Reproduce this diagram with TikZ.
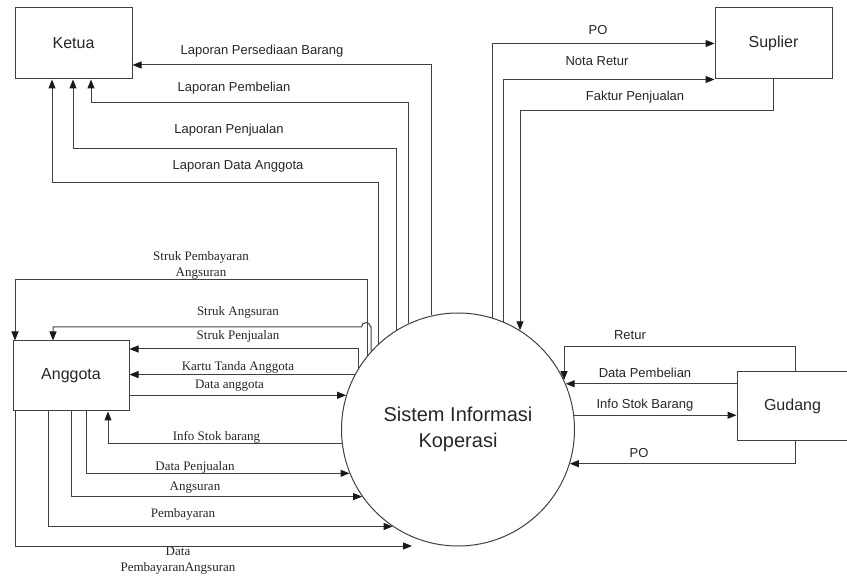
\documentclass[tikz,border=0pt]{standalone}
\usepackage{fontspec}
\setmainfont{Liberation Serif}
\setsansfont{Liberation Sans}
\usetikzlibrary{arrows.meta}

\begin{document}
\begin{tikzpicture}[x=1pt,y=-1pt,
  line/.style={draw=black!75, line width=1pt},
  flow/.style={line, -{Triangle[length=9pt,width=7pt,color=black!90]}},
  entity/.style={line, rectangle, inner sep=0pt, text=black!85,
    font=\sffamily\fontsize{16}{18}\selectfont},
  proc/.style={line, circle, inner sep=0pt, align=center, text=black!85,
    font=\sffamily\fontsize{20}{26}\selectfont},
  sl/.style={inner sep=0pt, text=black!85, font=\sffamily\fontsize{13}{15}\selectfont},
  rl/.style={inner sep=0pt, text=black!85, align=center,
    font=\rmfamily\fontsize{13}{16}\selectfont}]
\useasboundingbox (0,0) rectangle (847,577);

% external entities and the process
\node[entity, minimum width=117pt, minimum height=71pt] (ketua) at (73.5,43.5) {Ketua};
\node[entity, minimum width=117pt, minimum height=71pt] (suplier) at (773.5,43.5) {Suplier};
\node[entity, minimum width=116pt, minimum height=70pt] (anggota) at (71,376) {Anggota};
\node[entity, minimum width=111pt, minimum height=69pt] (gudang) at (792.5,406.5) {Gudang};
\node[proc, minimum size=233pt] (sys) at (458,429.5) {Sistem Informasi\\Koperasi};

% bend points
\coordinate (kPer) at (0,65);
\coordinate (kPem) at (91,103);
\coordinate (kPen) at (73,149);
\coordinate (kAng) at (52,183);
\coordinate (aSpa) at (15,280);
\coordinate (hopR) at (370.5,327);
\coordinate (aSa)  at (53,327);
\coordinate (aSp)  at (0,349);
\coordinate (aInfo) at (108,0);
\coordinate (aDp)  at (86,0);
\coordinate (aPb)  at (48,0);
\coordinate (aDpa) at (15,0);
\coordinate (dpaEnd) at (412,546);
\coordinate (sFak) at (0,111);
\coordinate (gX)   at (795,0);
\coordinate (gRet) at (0,347);

% flows to Ketua
\draw[flow] (sys.103.85) |- (ketua.east |- kPer);
\draw[flow] (sys.115.84) |- (kPem) -- (kPem |- ketua.south);
\draw[flow] (sys.122.58) |- (kPen) -- (kPen |- ketua.south);
\draw[flow] (sys.133.13) |- (kAng) -- (kAng |- ketua.south);

% flows between Anggota and the process
\draw[flow] (sys.141.84) |- (aSpa) -- (aSpa |- anggota.north);
\draw[flow] (sys.138.04) |- (hopR) arc[start angle=0, end angle=-180, radius=4.5]
  -- (aSa) -- (aSa |- anggota.north);
\draw[flow] (sys.148.74) |- (anggota.east |- aSp);
\draw[flow] (sys.152.51) -- (anggota.east |- sys.152.51);
\draw[flow] (anggota.east |- sys.163.62) -- (sys.163.62);
\draw[flow] (sys.187.86) -| (aInfo |- anggota.south);
\draw[flow] (aDp |- anggota.south) |- (sys.202.09);
\draw[flow] (anggota.south) |- (sys.215.53);
\draw[flow] (aPb |- anggota.south) |- (sys.236.0);
\draw[flow] (aDpa |- anggota.south) |- (dpaEnd);

% flows with Suplier
\draw[flow] (sys.73.6) |- (suplier.west);
\draw[flow] (sys.67.38) |- (suplier.south west);
\draw[flow] (suplier.south) |- (sys.58 |- sFak) -- (sys.58);

% flows with Gudang
\draw[flow] (gudang.north -| gX) |- (sys.25.03 |- gRet) -- (sys.25.03);
\draw[flow] (gudang.west |- sys.23.69) -- (sys.23.69);
\draw[flow] (sys.7.37) -- (gudang.west |- sys.7.37);
\draw[flow] (gudang.south -| gX) |- (sys.343.62);

% labels
\node[sl] (lPer) at (262,51) {Laporan Persediaan Barang};
\node[sl] (lPem) at (234,88) {Laporan Pembelian};
\node[sl] (lPen) at (229,130) {Laporan Penjualan};
\node[sl] (lDA)  at (238,166) {Laporan Data Anggota};

\node[sl] (lPO)  at (598,30) {PO};
\node[sl] (lNR)  at (597,61) {Nota Retur};
\node[sl] (lFP)  at (635,97) {Faktur Penjualan};

\node[sl] (lRet) at (630,335) {Retur};
\node[sl] (lDPb) at (645,373) {Data Pembelian};
\node[sl] (lISB) at (645,405) {Info Stok Barang};
\node[sl] (lPO2) at (639,453) {PO};

\node[rl] (lSPA) at (201,265) {Struk Pembayaran\\Angsuran};
\node[rl] (lSA)  at (238,312) {Struk Angsuran};
\node[rl] (lSP)  at (238,336) {Struk Penjualan};
\node[rl] (lKTA) at (238,367) {Kartu Tanda Anggota};
\node[rl] (lDa)  at (229.5,386) {Data anggota};
\node[rl] (lIS)  at (216.5,437) {Info Stok barang};
\node[rl] (lDPj) at (195,467) {Data Penjualan};
\node[rl] (lAng) at (195,488) {Angsuran};
\node[rl] (lPby) at (183,514) {Pembayaran};
\node[rl] (lDPA) at (178,561) {Data\\PembayaranAngsuran};
\end{tikzpicture}
\end{document}
